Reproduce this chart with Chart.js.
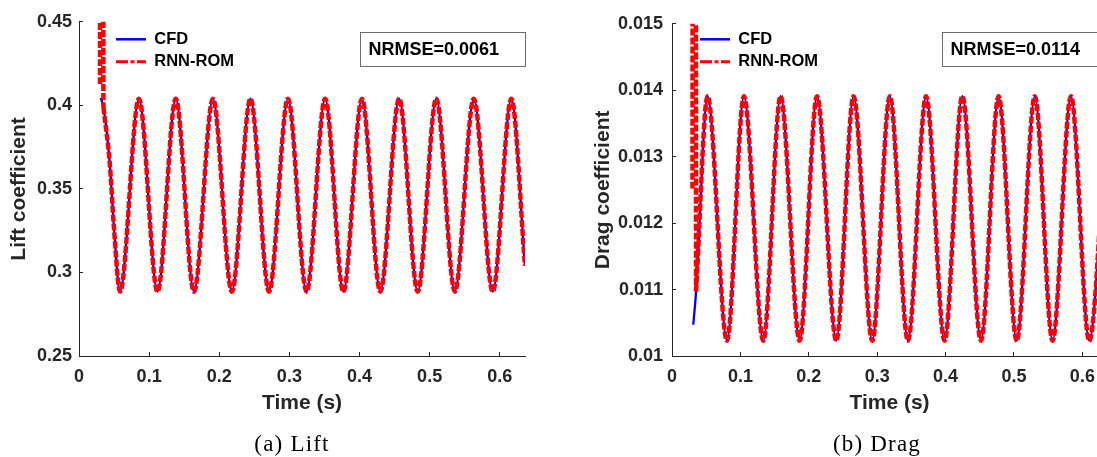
<!DOCTYPE html>
<html>
<head>
<meta charset="utf-8">
<title>Lift and drag coefficients</title>
<script src="https://cdn.jsdelivr.net/npm/chart.js@4.4.1/dist/chart.umd.min.js"></script>
<style>
  html, body { margin:0; padding:0; background:#fff; overflow:hidden; }
  #wrap { position:relative; width:1097px; height:457px; overflow:hidden; background:#fff; }
  canvas { position:absolute; top:0; }
  #c1 { left:0; }
  #c2 { left:580px; }
  .cap { position:absolute; top:431px; font-family:"Liberation Serif", serif; font-size:23px; letter-spacing:1.2px; line-height:26px; color:#000; white-space:nowrap; transform:translateX(-50%); }
</style>
</head>
<body>
<div id="wrap">
  <canvas id="c1" width="560" height="457"></canvas>
  <canvas id="c2" width="560" height="457"></canvas>
  <div class="cap" id="capA" style="left:292px"></div>
  <div class="cap" id="capB" style="left:877px"></div>
</div>
<script>
// ---------------- data ----------------
const timeTickValues = [0, 0.1, 0.2, 0.3, 0.4, 0.5, 0.6];
const timeTickLabels = ['0', '0.1', '0.2', '0.3', '0.4', '0.5', '0.6'];
const timeMax = 0.636;

const liftTickValues = [0.25, 0.30, 0.35, 0.40, 0.45];
const liftTickLabels = ['0.25', '0.3', '0.35', '0.4', '0.45'];
const dragTickValues = [0.010, 0.011, 0.012, 0.013, 0.014, 0.015];
const dragTickLabels = ['0.01', '0.011', '0.012', '0.013', '0.014', '0.015'];

const seriesNames = ['CFD', 'RNN-ROM'];
const captions = ['(a) Lift', '(b) Drag'];
const yTitles = ['Lift coefficient', 'Drag coefficient'];
const xTitle = 'Time (s)';
const nrmseLabels = ['NRMSE=0.0061', 'NRMSE=0.0114'];

// Lift: CFD (start, first descent, then troughs / peaks, end point)
const liftCfdTime  = [0.0310, 0.0348, 0.0438, 0.0499, 0.0585, 0.0855, 0.1120, 0.1380, 0.1640, 0.1910, 0.2180, 0.2445,
                      0.2710, 0.2980, 0.3245, 0.3510, 0.3770, 0.4035, 0.4297, 0.4565, 0.4830, 0.5095, 0.5360, 0.5630,
                      0.5900, 0.6165, 0.6360];
const liftCfdValue = [0.4044, 0.3990, 0.3657, 0.3266, 0.2885, 0.4040, 0.2885, 0.4040, 0.2885, 0.4040, 0.2885, 0.4040,
                      0.2885, 0.4040, 0.2885, 0.4040, 0.2885, 0.4040, 0.2885, 0.4040, 0.2885, 0.4040, 0.2885, 0.4040,
                      0.2885, 0.4040, 0.3040];
// Lift: RNN-ROM (initial transient leaves the axes; null = break; then follows CFD)
const liftRomTime  = [0.0300, 0.0302, 0.0346, 0.0348, 0.03481, 0.03482, 0.0438, 0.0499, 0.0585, 0.0855, 0.1120, 0.1380,
                      0.1640, 0.1910, 0.2180, 0.2445, 0.2710, 0.2980, 0.3245, 0.3510, 0.3770, 0.4035, 0.4297, 0.4565,
                      0.4830, 0.5095, 0.5360, 0.5630, 0.5900, 0.6165, 0.6360];
const liftRomValue = [0.4128, 0.5600, 0.5600, 0.3990, null, 0.3990, 0.3657, 0.3266, 0.2885, 0.4040, 0.2885, 0.4040,
                      0.2885, 0.4040, 0.2885, 0.4040, 0.2885, 0.4040, 0.2885, 0.4040, 0.2885, 0.4040, 0.2885, 0.4040,
                      0.2885, 0.4040, 0.2885, 0.4040, 0.2885, 0.4040, 0.3040];

// Drag: CFD
const dragCfdTime  = [0.0311, 0.0352, 0.0520, 0.0804, 0.1052, 0.1335, 0.1588, 0.1866, 0.2120, 0.2402, 0.2655, 0.2928,
                      0.3185, 0.3450, 0.3715, 0.3985, 0.4245, 0.4518, 0.4775, 0.5040, 0.5305, 0.5564, 0.5833, 0.6100, 0.6365];
const dragCfdValue = [0.01047, 0.01097, 0.01391, 0.01023, 0.01391, 0.01023, 0.01391, 0.01023, 0.01391, 0.01023, 0.01391, 0.01023,
                      0.01391, 0.01023, 0.01391, 0.01023, 0.01391, 0.01023, 0.01391, 0.01023, 0.01391, 0.01023, 0.01391, 0.01023, 0.01391];
// Drag: RNN-ROM
const dragRomTime  = [0.0300, 0.0302, 0.0348, 0.0352, 0.03521, 0.03522, 0.0520, 0.0804, 0.1052, 0.1335, 0.1588, 0.1866,
                      0.2120, 0.2402, 0.2655, 0.2928, 0.3185, 0.3450, 0.3715, 0.3985, 0.4245, 0.4518, 0.4775, 0.5040,
                      0.5305, 0.5564, 0.5833, 0.6100, 0.6365];
const dragRomValue = [0.01252, 0.01650, 0.01650, 0.01097, null, 0.01097, 0.01391, 0.01023, 0.01391, 0.01023, 0.01391, 0.01023,
                      0.01391, 0.01023, 0.01391, 0.01023, 0.01391, 0.01023, 0.01391, 0.01023, 0.01391, 0.01023, 0.01391, 0.01023,
                      0.01391, 0.01023, 0.01391, 0.01023, 0.01391];

// ---------------- rendering ----------------
document.getElementById('capA').textContent = captions[0];
document.getElementById('capB').textContent = captions[1];

Chart.defaults.font.family = '"Liberation Sans", Arial, sans-serif';
const AX = '#262626';
const zip = (xs, ys) => xs.map((x, i) => ({ x: x, y: ys[i] }));
const lab = (vals, labels) => (v) => {
  const i = vals.findIndex(t => Math.abs(t - v) < 1e-9);
  return i >= 0 ? labels[i] : '';
};

const legendPlacer = {
  id: 'legendPlacer',
  afterLayout(chart, args, o) {
    const lg = chart.legend;
    if (!lg) return;
    const pad = lg.options.labels.padding;
    const fs = lg.options.labels.font.size;
    lg.left = o.x - pad;
    lg.top = o.y - pad - fs / 2;
    lg.right = chart.chartArea.right;
    lg.bottom = chart.chartArea.bottom;
    lg.width = lg.right - lg.left;
    lg.height = lg.bottom - lg.top;
  }
};

const nrmseBox = {
  id: 'nrmseBox',
  afterDraw(chart, args, o) {
    const ctx = chart.ctx, ca = chart.chartArea;
    const x = Math.round(ca.right - o.width) + 0.5, y = o.top + 0.5;
    ctx.save();
    ctx.fillStyle = '#ffffff';
    ctx.fillRect(x, y, o.width, o.height);
    ctx.strokeStyle = '#6b6b6b';
    ctx.lineWidth = 1;
    ctx.strokeRect(x, y, o.width, o.height);
    ctx.font = 'bold 18px "Liberation Sans", Arial, sans-serif';
    ctx.fillStyle = '#000';
    ctx.textAlign = 'left';
    ctx.textBaseline = 'middle';
    ctx.fillText(o.text, x + o.padLeft, y + o.height / 2 + 1);
    ctx.restore();
  }
};

function makeChart(id, cfg) {
  const scaleCommon = {
    grid: { display: true, drawOnChartArea: false, drawTicks: true, tickLength: -4, tickColor: AX, tickWidth: 1 },
    border: { display: true, color: AX, width: 1 }
  };
  return new Chart(document.getElementById(id), {
    type: 'line',
    data: {
      datasets: [
        { label: seriesNames[1], data: zip(cfg.romT, cfg.romV), borderColor: '#ff0000', borderWidth: 4.5,
          borderDash: [7, 2], pointRadius: 0, cubicInterpolationMode: 'monotone', fill: false, spanGaps: false },
        { label: seriesNames[0], data: zip(cfg.cfdT, cfg.cfdV), borderColor: '#0000ff', borderWidth: 2.3,
          pointRadius: 0, cubicInterpolationMode: 'monotone', fill: false }
      ]
    },
    options: {
      responsive: false,
      animation: false,
      devicePixelRatio: 1,
      events: [],
      layout: { padding: { top: 17, left: 0, right: cfg.padRight, bottom: 0 } },
      scales: {
        x: Object.assign({}, scaleCommon, {
          type: 'linear', position: 'bottom', min: 0, max: timeMax,
          afterBuildTicks: s => { s.ticks = timeTickValues.map(v => ({ value: v })); },
          afterFit: s => { s.height = 101; },
          ticks: { callback: lab(timeTickValues, timeTickLabels), font: { size: 18, weight: 'bold' }, color: AX,
                   padding: 14, maxRotation: 0, minRotation: 0, autoSkip: false, includeBounds: false },
          title: { display: true, text: xTitle, font: { size: 21, weight: 'bold' }, color: AX,
                   padding: { top: 0, bottom: 41 } }
        }),
        y: Object.assign({}, scaleCommon, {
          type: 'linear', position: 'left', min: cfg.yMin, max: cfg.yMax,
          afterBuildTicks: s => { s.ticks = cfg.yTicks.map(v => ({ value: v })); },
          afterFit: s => { s.width = cfg.yWidth; },
          ticks: { callback: lab(cfg.yTicks, cfg.yLabels), font: { size: 18, weight: 'bold' }, color: AX,
                   padding: cfg.yTickPad, autoSkip: false, includeBounds: false },
          title: { display: true, text: cfg.yTitle, font: { size: 21, weight: 'bold' }, color: AX,
                   padding: { top: cfg.yTitlePad, bottom: 0 } }
        })
      },
      plugins: {
        tooltip: { enabled: false },
        legend: {
          display: true,
          position: 'chartArea',
          align: 'start',
          labels: {
            usePointStyle: true,
            pointStyle: 'line',
            pointStyleWidth: 30,
            padding: 6,
            color: '#000',
            font: { size: 16.5, weight: 'bold' },
            generateLabels: () => [
              { text: seriesNames[0], strokeStyle: '#0000ff', fillStyle: 'rgba(0,0,0,0)', lineWidth: 2.5,
                lineDash: [], pointStyle: 'line', hidden: false, datasetIndex: 1, fontColor: '#000' },
              { text: seriesNames[1], strokeStyle: '#ff0000', fillStyle: 'rgba(0,0,0,0)', lineWidth: 3,
                lineDash: [12, 2.5, 4, 2.5], pointStyle: 'line', hidden: false, datasetIndex: 0, fontColor: '#000' }
            ]
          }
        },
        legendPlacer: { x: cfg.legendX, y: 39.3 },
        nrmseBox: { text: cfg.nrmse, width: 165, height: 34, top: 32, padLeft: 8 }
      }
    },
    plugins: [legendPlacer, nrmseBox]
  });
}

makeChart('c1', {
  cfdT: liftCfdTime, cfdV: liftCfdValue, romT: liftRomTime, romV: liftRomValue,
  yMin: 0.25, yMax: 0.45, yTicks: liftTickValues, yLabels: liftTickLabels, yTitle: yTitles[0],
  yWidth: 79, padRight: 35, yTickPad: 11, yTitlePad: 7, legendX: 116, nrmse: nrmseLabels[0]
});
makeChart('c2', {
  cfdT: dragCfdTime, cfdV: dragCfdValue, romT: dragRomTime, romV: dragRomValue,
  yMin: 0.010, yMax: 0.015, yTicks: dragTickValues, yLabels: dragTickLabels, yTitle: yTitles[1],
  yWidth: 92, padRight: 33, yTickPad: 13, yTitlePad: 11, legendX: 120, nrmse: nrmseLabels[1]
});
</script>
</body>
</html>
